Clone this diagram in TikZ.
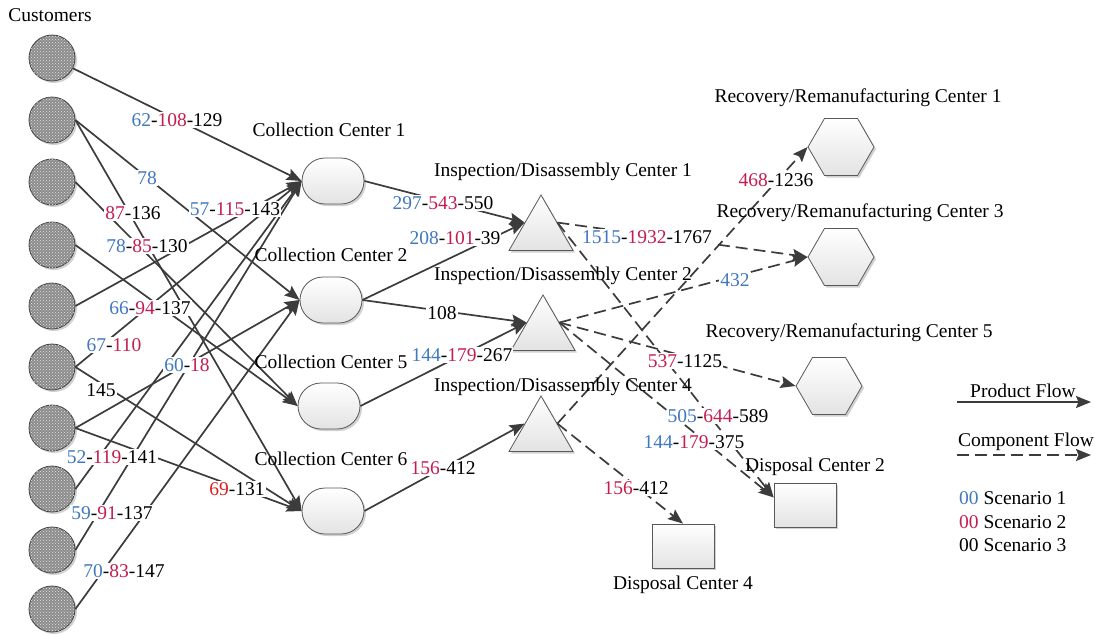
\documentclass[tikz,border=0pt]{standalone}
\usepackage{fontspec}
\setmainfont{Liberation Serif}
\usetikzlibrary{arrows.meta,shapes.geometric,shapes.misc,patterns,shadows,calc}

\definecolor{wire}{HTML}{3C3C3C}
\definecolor{scone}{HTML}{4178BE}
\definecolor{sctwo}{HTML}{C41E50}
\definecolor{scred}{HTML}{DC1E1E}
\newcommand\sone[1]{\textcolor{scone}{#1}}
\newcommand\stwo[1]{\textcolor{sctwo}{#1}}
\newcommand\sred[1]{\textcolor{scred}{#1}}

\begin{document}
\begin{tikzpicture}[x=1pt,y=-1pt,
  font=\fontsize{19.5}{23}\selectfont,
  every node/.style={inner sep=1pt},
  softshadow/.style={drop shadow={shadow xshift=2pt,shadow yshift=-2pt,fill=black,opacity=0.18}},
  customer/.style={circle,minimum size=46pt,inner sep=0pt,draw=black!75,line width=0.8pt,fill=black!45,
     postaction={pattern=crosshatch dots,pattern color=white!80!gray},softshadow},
  facility/.style={draw=black!65,line width=0.8pt,top color=white,bottom color=gray!22,inner sep=0pt,softshadow},
  collect/.style={facility,rounded rectangle,minimum width=62pt,minimum height=46pt},
  inspect/.style={facility,regular polygon,regular polygon sides=3,minimum size=74pt},
  recover/.style={facility,regular polygon,regular polygon sides=6,minimum size=66pt},
  dispose/.style={facility,rectangle,minimum width=62pt,minimum height=44pt},
  flow/.style={draw=wire,line width=1.7pt,-{Stealth[length=15pt,width=12pt,inset=2.5pt]}},
  compflow/.style={flow,dash pattern=on 12pt off 6pt},
  qty/.style={fill=white,inner sep=1pt},
]
\useasboundingbox (0,0) rectangle (1095,635);

% customers
\foreach \i/\y in {1/58,2/120,3/182,4/245,5/306,6/367,7/428,8/489,9/550,10/609}
  \node[customer] (c\i) at (52,\y) {};

% collection centres
\node[collect] (cc1) at (333,181) {};
\node[collect] (cc2) at (331,300) {};
\node[collect] (cc5) at (329,406) {};
\node[collect] (cc6) at (333,511) {};

% inspection / disassembly centres
\node[inspect] (idc1) at (541,232) {};
\node[inspect] (idc2) at (543,332) {};
\node[inspect] (idc4) at (541,433) {};

% recovery / remanufacturing centres
\node[recover] (rrc1) at (841,147) {};
\node[recover] (rrc3) at (841,257) {};
\node[recover] (rrc5) at (829,386) {};

% disposal centres
\node[dispose] (dc2) at (805,505) {};
\node[dispose] (dc4) at (683,546) {};

% product flows: customers -> collection
\draw[flow] (c1) -- (cc1.west);
\draw[flow] (c2.east) -- (cc2.west);
\draw[flow] (c2.east) -- (cc6.west);
\draw[flow] (c3.east) -- (cc5.west);
\draw[flow] (c4.east) -- (cc5.west);
\draw[flow] (c5.east) -- (cc1.west);
\draw[flow] (c6.east) -- (cc1.west);
\draw[flow] (c6.east) -- (cc6.west);
\draw[flow] (c7.east) -- (cc2.west);
\draw[flow] (c7.east) -- (cc6.west);
\draw[flow] (c8.east) -- (cc1.west);
\draw[flow] (c9.east) -- (cc1.west);
\draw[flow] (c10.east) -- (cc2.west);

% product flows: collection -> inspection
\draw[flow] (cc1.east) -- (idc1.side 1);
\draw[flow] (cc2.east) -- (idc1.side 1);
\draw[flow] (cc2.east) -- (idc2.side 1);
\draw[flow] (cc5.east) -- (idc2.side 1);
\draw[flow] (cc6.east) -- (idc4.side 1);

% component flows
\coordinate (dc2in) at ($(dc2.north west)!0.33!(dc2.south west)$);
\draw[compflow] (idc1.side 3) -- (rrc3.west);
\draw[compflow] (idc1.side 3) -- (dc2in);
\draw[compflow] (idc2.side 3) -- (rrc3.west);
\draw[compflow] (idc2.side 3) -- (rrc5.west);
\draw[compflow] (idc2.side 3) -- (dc2in);
\draw[compflow] (idc4.side 3) -- (rrc1.west);
\draw[compflow] (idc4.side 3) -- (dc4.north);

% node titles
\node (tcust) at (50,15) {Customers};
\node (tcc1) at (329,130) {Collection Center 1};
\node (tcc2) at (331,255) {Collection Center 2};
\node (tcc5) at (331,362) {Collection Center 5};
\node (tcc6) at (331,459) {Collection Center 6};
\node (tidc1) at (563,172) {Inspection/Disassembly Center 1};
\node (tidc2) at (563,276) {Inspection/Disassembly Center 2};
\node (tidc4) at (563,387) {Inspection/Disassembly Center 4};
\node (trrc1) at (858,98) {Recovery/Remanufacturing Center 1};
\node (trrc3) at (860,213) {Recovery/Remanufacturing Center 3};
\node (trrc5) at (849,333) {Recovery/Remanufacturing Center 5};
\node (tdc2) at (815,467) {Disposal Center 2};
\node (tdc4) at (683,585) {Disposal Center 4};

% flow quantities
\node[qty] (q1) at (177,120) {\sone{62}-\stwo{108}-129};
\node[qty] (q2) at (147,178) {\sone{78}};
\node[qty] (q3) at (133,213) {\stwo{87}-136};
\node[qty] (q4) at (235,209) {\sone{57}-\stwo{115}-143};
\node[qty] (q5) at (147,246) {\sone{78}-\stwo{85}-130};
\node[qty] (q6) at (150,308) {\sone{66}-\stwo{94}-137};
\node[qty] (q7) at (114,345) {\sone{67}-\stwo{110}};
\node[qty] (q8) at (101,390) {145};
\node[qty] (q9) at (187,365) {\sone{60}-\stwo{18}};
\node[qty] (q10) at (112,457) {\sone{52}-\stwo{119}-141};
\node[qty] (q11) at (237,489) {\sred{69}-131};
\node[qty] (q12) at (112,513) {\sone{59}-\stwo{91}-137};
\node[qty] (q13) at (124,571) {\sone{70}-\stwo{83}-147};
\node[qty] (q14) at (443,203) {\sone{297}-\stwo{543}-550};
\node[qty] (q15) at (455,238) {\sone{208}-\stwo{101}-39};
\node[qty] (q16) at (442,313) {108};
\node[qty] (q17) at (462,355) {\sone{144}-\stwo{179}-267};
\node[qty] (q18) at (443,468) {\stwo{156}-412};
\node[qty] (q19) at (647,237) {\sone{1515}-\stwo{1932}-1767};
\node[qty] (q20) at (776,180) {\stwo{468}-1236};
\node[qty] (q21) at (735,280) {\sone{432}};
\node[qty] (q22) at (685,361) {\stwo{537}-1125};
\node[qty] (q23) at (718,416) {\sone{505}-\stwo{644}-589};
\node[qty] (q24) at (694,442) {\sone{144}-\stwo{179}-375};
\node[qty] (q25) at (636,488) {\stwo{156}-412};

% legend
\coordinate (pfa) at (957,402);
\coordinate (pfb) at (1091,402);
\coordinate (cfa) at (957,455);
\coordinate (cfb) at (1091,455);
\draw[flow] (pfa) -- (pfb);
\draw[compflow] (cfa) -- (cfb);
\node (lpf) at (1023,391) {Product Flow};
\node (lcf) at (1026,442) {Component Flow};
\node[anchor=west] (ls1) at (958,498) {\sone{00} Scenario 1};
\node[anchor=west] (ls2) at (958,522) {\stwo{00} Scenario 2};
\node[anchor=west] (ls3) at (958,545) {00 Scenario 3};
\end{tikzpicture}
\end{document}
